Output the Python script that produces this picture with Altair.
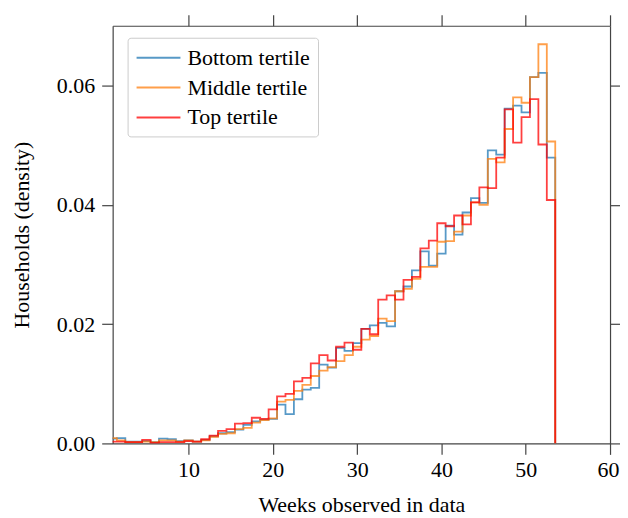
import altair as alt
import pandas as pd

weeks = list(range(1, 54))

bottom = [0.0008, 0.0009, 0.0003, 0.0003, 0.0004, 0.0002, 0.0008, 0.0007, 0.0004, 0.0005,
          0.0003, 0.0006, 0.0012, 0.0017, 0.0019, 0.0023, 0.0031, 0.0037, 0.0040, 0.0041,
          0.0065, 0.0049, 0.0074, 0.0090, 0.0093, 0.0132, 0.0127, 0.0160, 0.0155, 0.0168,
          0.0192, 0.0198, 0.0202, 0.0196, 0.0255, 0.0263, 0.0290, 0.0322, 0.0298, 0.0318,
          0.0365, 0.0350, 0.0387, 0.0411, 0.0403, 0.0491, 0.0484, 0.0561, 0.0566, 0.0555,
          0.0614, 0.0621, 0.0479]

middle = [0.0009, 0.0005, 0.0002, 0.0002, 0.0003, 0.0002, 0.0005, 0.0005, 0.0003, 0.0005,
          0.0003, 0.0005, 0.0011, 0.0016, 0.0017, 0.0024, 0.0026, 0.0035, 0.0039, 0.0042,
          0.0070, 0.0073, 0.0088, 0.0098, 0.0113, 0.0122, 0.0128, 0.0138, 0.0148, 0.0162,
          0.0174, 0.0180, 0.0209, 0.0205, 0.0255, 0.0259, 0.0276, 0.0296, 0.0296, 0.0338,
          0.0339, 0.0355, 0.0382, 0.0404, 0.0400, 0.0477, 0.0471, 0.0527, 0.0580, 0.0571,
          0.0614, 0.0669, 0.0506]

top = [0.0003, 0.0003, 0.0002, 0.0002, 0.0006, 0.0001, 0.0002, 0.0002, 0.0002, 0.0004,
       0.0003, 0.0007, 0.0013, 0.0021, 0.0024, 0.0033, 0.0034, 0.0043, 0.0041, 0.0057,
       0.0079, 0.0083, 0.0104, 0.0110, 0.0134, 0.0148, 0.0139, 0.0162, 0.0169, 0.0157,
       0.0192, 0.0183, 0.0241, 0.0248, 0.0241, 0.0274, 0.0279, 0.0327, 0.0340, 0.0369,
       0.0364, 0.0382, 0.0367, 0.0404, 0.0429, 0.0428, 0.0479, 0.0560, 0.0504, 0.0547,
       0.0577, 0.0501, 0.0408]

series_names = ["Bottom tertile", "Middle tertile", "Top tertile"]
series_colors = ["#1f77b4", "#ff7f0e", "#ff0000"]
x_ticks = [10, 20, 30, 40, 50, 60]
y_ticks = [0.0, 0.02, 0.04, 0.06]

# histogram outline: bins of width 1 centred on each week
rows = []
for name, vals in zip(series_names, [bottom, middle, top]):
    i = 0
    for w, v in zip(weeks, vals):
        rows.append({"series": name, "edge": w - 0.5, "density": v, "idx": i})
        i += 1
    rows.append({"series": name, "edge": weeks[-1] + 0.5, "density": vals[-1], "idx": i})
    rows.append({"series": name, "edge": weeks[-1] + 0.5, "density": 0.0, "idx": i + 1})
df = pd.DataFrame(rows)

font = "Liberation Serif"
x_scale = alt.Scale(domain=[1, 60], nice=False, zero=False)
y_scale = alt.Scale(domain=[0, 0.07], nice=False)

ax = dict(domainColor="#444444", domainWidth=1.2, tickColor="#444444", tickWidth=1.2,
          tickSize=11, grid=False, labelFont=font, labelFontSize=22, labelColor="black",
          titleFont=font, titleFontSize=22, titleFontWeight="normal", titleColor="black")

lines = alt.Chart(df).mark_line(interpolate="step-after", strokeWidth=1.8, opacity=0.75, clip=True).encode(
    x=alt.X("edge:Q", scale=x_scale,
            axis=alt.Axis(orient="bottom", values=x_ticks, title="Weeks observed in data",
                          labelFlush=True, labelFlushOffset=9,
                          labelPadding=5, titlePadding=14, **ax)),
    y=alt.Y("density:Q", scale=y_scale,
            axis=alt.Axis(orient="left", values=y_ticks, format=".2f", title="Households (density)",
                          labelFlush=False, labelPadding=7, titlePadding=23, **ax)),
    color=alt.Color("series:N", title=None,
                    scale=alt.Scale(domain=series_names, range=series_colors),
                    legend=alt.Legend(orient="none", legendX=15, legendY=12, fillColor="white",
                                      strokeColor="#cccccc", cornerRadius=3, padding=8,
                                      symbolType="M-1,0H3", symbolSize=484, symbolStrokeWidth=2,
                                      symbolOpacity=0.75, symbolFillColor="transparent",
                                      labelFont=font, labelFontSize=22,
                                      labelColor="black", rowPadding=7, labelOffset=28)),
    order="idx:Q",
)

frame = alt.Chart(df).mark_line(opacity=0).encode(
    x=alt.X("edge:Q", scale=x_scale,
            axis=alt.Axis(orient="top", values=x_ticks, labels=False, title="", **ax)),
    y=alt.Y("density:Q", scale=y_scale,
            axis=alt.Axis(orient="right", values=y_ticks, labels=False, title="", **ax)),
)

chart = alt.layer(lines, frame).resolve_axis(x="independent", y="independent").properties(
    width=499, height=419,
    padding={"left": 105, "top": 17, "right": 10, "bottom": 74},
    autosize=alt.AutoSizeParams(type="none"),
).configure_view(strokeWidth=0)

chart.save("out.html", embed_options={"renderer": "svg", "actions": False})
